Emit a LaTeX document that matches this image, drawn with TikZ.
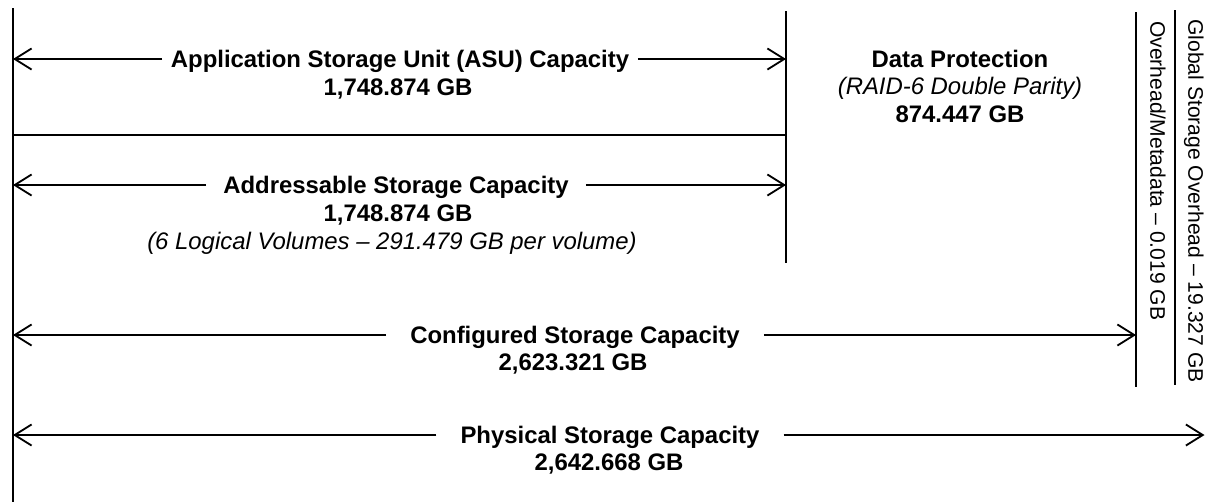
\documentclass[tikz,border=0pt]{standalone}
\usepackage{fontspec}
\setmainfont{Liberation Sans}
\usetikzlibrary{positioning,arrows.meta}

\begin{document}
\begin{tikzpicture}[x=0.025cm,y=-0.025cm]
	\tikzset{>={Straight Barb[length=12pt,width=15pt]}}
	\tikzset{capText/.style={font=\fontsize{17}{20}\selectfont\bfseries, inner ysep=0, inner xsep=6pt, text height=12.2pt, text depth=0pt}}
	\tikzset{valText/.style={font=\fontsize{17}{20}\selectfont\bfseries, inner sep=0, text height=12.2pt, text depth=0pt}}
	\tikzset{noteText/.style={font=\fontsize{17}{20}\selectfont\itshape, inner sep=0, text height=12.2pt, text depth=0pt}}
	\tikzset{sideText/.style={font=\fontsize{15}{18}\selectfont, inner sep=0, rotate=-90, anchor=south west, text height=10.7pt, text depth=0pt}}
	\tikzset{sizeArrow/.style={line width=1.3pt,->}}
	\useasboundingbox (0,0) rectangle (1205,502);
	
	% Vertical and horizontal border lines
	\coordinate (leftTop) at (13,8);
	\coordinate (leftBot) at (13,502);
	\coordinate (midTop) at (786,11);
	\coordinate (midBot) at (786,263);
	\coordinate (metaTop) at (1136,12);
	\coordinate (metaBot) at (1136,387);
	\coordinate (globTop) at (1175,10);
	\coordinate (globBot) at (1175,385);
	\coordinate (rightEnd) at (1204.5,0);
	\draw[line width=1.4pt] (leftTop) -- (leftBot);
	\draw[line width=1.4pt] (midTop) -- (midBot);
	\draw[line width=1.4pt] (metaTop) -- (metaBot);
	\draw[line width=1.4pt] (globTop) -- (globBot);
	\draw[line width=1pt] (leftTop |- 0,135) -- (midTop |- 0,135);
	
	% Application Storage Unit
	\node (asu) at (400,59) [capText] {Application Storage Unit (ASU) Capacity};
	\node (asuVal) at (398,87) [valText] {1,748.874 GB};
	\draw[sizeArrow] (asu.west) -- (asu.west -| leftTop);
	\draw[sizeArrow] (asu.east) -- (asu.east -| midTop);
	
	% Addressable Storage
	\node (addr) at (396,185) [capText, inner xsep=12pt] {Addressable Storage Capacity};
	\node (addrVal) at (398,213) [valText] {1,748.874 GB};
	\node (addrNote) at (392,241) [noteText] {(6 Logical Volumes – 291.479 GB per volume)};
	\draw[sizeArrow] (addr.west) -- (addr.west -| leftTop);
	\draw[sizeArrow] (addr.east) -- (addr.east -| midTop);
	
	% Data Protection
	\node (prot) at (960,59) [valText] {Data Protection};
	\node (protNote) at (960,86) [noteText] {(RAID-6 Double Parity)};
	\node (protVal) at (960,114) [valText] {874.447 GB};
	
	% Overhead texts
	\node (meta) at (1150,21) [sideText] {Overhead/Metadata – 0.019 GB};
	\node (glob) at (1188,19) [sideText] {Global Storage Overhead – 19.327 GB};
	
	% Configured Storage
	\node (conf) at (575,335) [capText, inner xsep=17pt] {Configured Storage Capacity};
	\node (confVal) at (573,362) [valText] {2,623.321 GB};
	\draw[sizeArrow] (conf.west) -- (conf.west -| leftTop);
	\draw[sizeArrow] (conf.east) -- (conf.east -| metaTop);
	
	% Physical Storage
	\node (phys) at (610,435) [capText, inner xsep=17pt] {Physical Storage Capacity};
	\node (physVal) at (609,462) [valText] {2,642.668 GB};
	\draw[sizeArrow] (phys.west) -- (phys.west -| leftTop);
	\draw[sizeArrow] (phys.east) -- (phys.east -| rightEnd);
\end{tikzpicture}
\end{document}
